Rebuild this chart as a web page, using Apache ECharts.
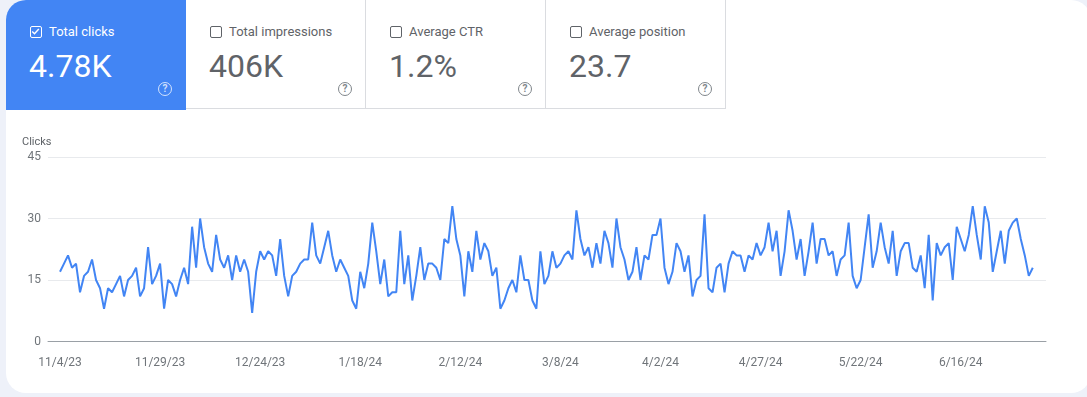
<!DOCTYPE html>
<html>
<head>
<meta charset="utf-8">
<script src="https://cdn.jsdelivr.net/npm/echarts@6/dist/echarts.min.js"></script>
<style>
  html, body { margin: 0; padding: 0; }
  body { width: 1087px; height: 397px; background: #eef1f9; position: relative; overflow: hidden; font-family: Roboto, "Noto Sans", sans-serif; }
  .card { position: absolute; left: 6px; top: 0; width: 1085px; height: 393px; background: #fff; border-radius: 20px; overflow: hidden; }
  .tile { position: absolute; top: 0; width: 180px; height: 109px; box-sizing: border-box; border-bottom: 1px solid #dadce0; border-right: 1px solid #dadce0; color: #5f6368; }
  .tile.on { background: #4285f4; color: #fff; border: none; height: 110px; }
  .box { position: absolute; left: 24px; top: 26px; width: 12px; height: 12px; box-sizing: border-box; border: 1.6px solid #5f6368; border-radius: 2px; }
  .on .box { border-color: #fff; }
  .box svg { position: absolute; left: 0; top: 0; }
  .lbl { position: absolute; left: 43px; top: 23px; font-size: 13px; line-height: 17px; }
  .val { position: absolute; left: 23px; top: 46px; font-size: 32px; line-height: 40px; }
  .help { position: absolute; left: 152px; top: 82px; width: 14px; height: 14px; box-sizing: border-box; border: 1.3px solid #80868b; border-radius: 50%; font-size: 10px; line-height: 12px; text-align: center; color: #80868b; font-weight: bold; }
  .on .help { border-color: rgba(255,255,255,0.75); color: rgba(255,255,255,0.75); }
  #chart { position: absolute; left: 0; top: 0; width: 1087px; height: 397px; }
</style>
</head>
<body>
<div class="card">
  <div class="tile on" style="left:0">
    <div class="box"><svg width="9" height="9" viewBox="0 0 9 9"><path d="M1.2 4.6 L3.5 6.8 L7.8 2" fill="none" stroke="#fff" stroke-width="1.4"/></svg></div>
    <div class="lbl">Total clicks</div>
    <div class="val">4.78K</div>
    <div class="help">?</div>
  </div>
  <div class="tile" style="left:180px">
    <div class="box"></div>
    <div class="lbl">Total impressions</div>
    <div class="val">406K</div>
    <div class="help">?</div>
  </div>
  <div class="tile" style="left:360px">
    <div class="box"></div>
    <div class="lbl">Average CTR</div>
    <div class="val">1.2%</div>
    <div class="help">?</div>
  </div>
  <div class="tile" style="left:540px">
    <div class="box"></div>
    <div class="lbl">Average position</div>
    <div class="val">23.7</div>
    <div class="help">?</div>
  </div>
</div>
<div id="chart"></div>
<script>
// daily clicks, day 0 = 11/4/23
var clicks = [
  17, 19, 21, 18, 19, 12, 16, 17, 20, 15,
  13, 8, 13, 12, 14, 16, 11, 15, 16, 18,
  11, 13, 23, 14, 16, 19, 8, 15, 14, 11,
  15, 18, 14, 28, 18, 30, 23, 19, 17, 26,
  20, 18, 21, 15, 21, 17, 20, 17, 7, 17,
  22, 20, 22, 21, 16, 25, 16, 11, 16, 17,
  19, 20, 20, 29, 21, 19, 23, 27, 21, 17,
  20, 18, 16, 10, 8, 17, 13, 19, 29, 22,
  14, 20, 11, 12, 12, 27, 14, 21, 10, 16,
  23, 15, 19, 19, 18, 15, 25, 24, 33, 25,
  21, 11, 22, 17, 27, 20, 24, 22, 16, 18,
  8, 10, 13, 15, 12, 21, 15, 15, 10, 8,
  22, 14, 16, 22, 18, 19, 21, 22, 20, 32,
  25, 21, 23, 18, 24, 19, 27, 24, 18, 30,
  23, 20, 15, 17, 23, 15, 21, 20, 26, 26,
  30, 18, 14, 17, 24, 22, 17, 21, 11, 15,
  16, 31, 13, 12, 18, 19, 12, 19, 22, 21,
  21, 17, 21, 20, 24, 21, 23, 29, 22, 27,
  16, 22, 32, 27, 20, 25, 16, 22, 29, 19,
  25, 25, 21, 22, 16, 20, 21, 29, 16, 13,
  15, 23, 31, 18, 22, 29, 23, 19, 27, 16,
  22, 24, 24, 18, 17, 21, 13, 26, 10, 24,
  21, 23, 24, 15, 28, 25, 22, 26, 33, 26,
  20, 33, 29, 17, 22, 27, 19, 27, 29, 30,
  25, 21, 16, 18
];
// one label every 25 days
var tickLabels = ['11/4/23', '11/29/23', '12/24/23', '1/18/24', '2/12/24', '3/8/24', '4/2/24', '4/27/24', '5/22/24', '6/16/24'];
var tickStep = 25;
var yTicks = [0, 15, 30, 45];

var seriesData = clicks.map(function (v, i) { return [i, v]; });
var tickDays = tickLabels.map(function (s, k) { return k * tickStep; });

var chart = echarts.init(document.getElementById('chart'));
chart.setOption({
  animation: false,
  grid: { left: 48, right: 41, top: 157, bottom: 55.5 },
  graphic: [{
    type: 'text', left: 22, top: 137,
    style: { text: 'Clicks', fill: '#5f6368', font: '11px Roboto' }
  }],
  xAxis: {
    type: 'value',
    min: -3,
    max: 246.3,
    axisLine: { show: true, lineStyle: { color: '#9aa0a6', width: 1 } },
    axisTick: { show: false },
    splitLine: { show: false },
    axisLabel: {
      customValues: tickDays,
      margin: 15,
      color: '#70757a',
      fontSize: 12,
      fontFamily: 'Roboto',
      formatter: function (v) { return tickLabels[Math.round(v / tickStep)]; }
    }
  },
  yAxis: {
    type: 'value',
    min: yTicks[0],
    max: yTicks[yTicks.length - 1],
    interval: 15,
    axisLine: { show: false },
    axisTick: { show: false },
    splitLine: { lineStyle: { color: '#e8eaed', width: 1 } },
    axisLabel: { margin: 7, color: '#70757a', fontSize: 12, fontFamily: 'Roboto' }
  },
  series: [{
    name: 'Clicks',
    type: 'line',
    data: seriesData,
    symbol: 'none',
    lineStyle: { color: '#4285f4', width: 2 },
    z: 3
  }]
});
</script>
</body>
</html>
